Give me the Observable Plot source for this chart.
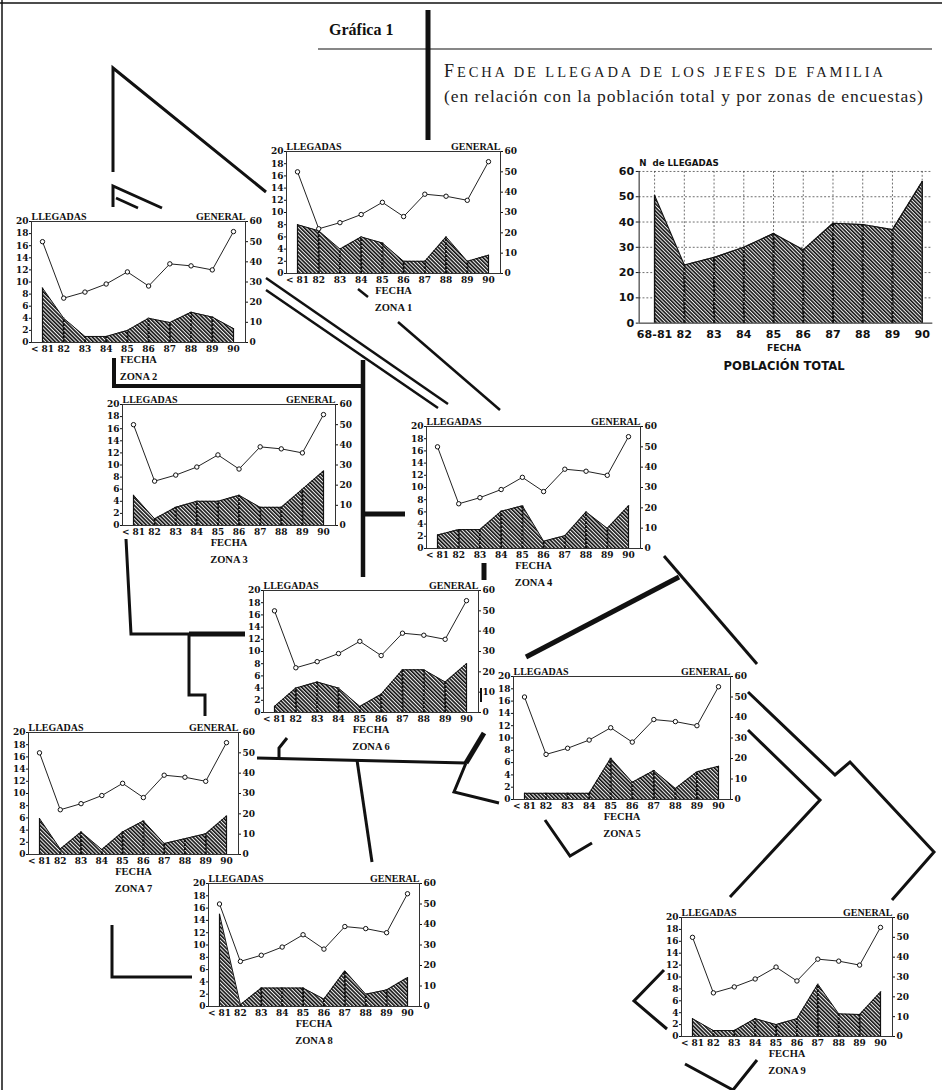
<!DOCTYPE html>
<html><head><meta charset="utf-8">
<script src="https://cdn.jsdelivr.net/npm/d3@7"></script>
<script src="https://cdn.jsdelivr.net/npm/@observablehq/plot@0.6"></script>
<style>
body{margin:0;background:#fff;}
#page{position:relative;width:942px;height:1090px;overflow:hidden;background:#fff;}
.abs{position:absolute;white-space:nowrap;}
.plotbox svg{overflow:visible;}
.sc{font-size:14.5px;}
.cap{font-size:18px;}
</style></head><body>
<svg width="0" height="0" style="position:absolute">
<defs>
<pattern id="hatch" patternUnits="userSpaceOnUse" width="2.7" height="2.7" patternTransform="rotate(-45)">
<rect width="2.7" height="2.7" fill="#eeeeee"/>
<line x1="0.8" y1="0" x2="0.8" y2="2.7" stroke="#111" stroke-width="1.6"/>
</pattern>
</defs></svg>
<div id="page"></div>
<script>
// ---------- DATA ----------
const years = [81, 82, 83, 84, 85, 86, 87, 88, 89, 90];
const xTickLabels = ["< 81", "82", "83", "84", "85", "86", "87", "88", "89", "90"];
const totalTickLabels = ["68-81", "82", "83", "84", "85", "86", "87", "88", "89", "90"];
const general = [50, 22, 25, 29, 35, 28, 39, 38, 36, 55];
const llegadasTicks = [0, 2, 4, 6, 8, 10, 12, 14, 16, 18, 20];
const generalTicks = [0, 10, 20, 30, 40, 50, 60];
const totalTicks = [0, 10, 20, 30, 40, 50, 60];
const zona1 = [8, 7, 4, 6, 5, 2, 2, 6, 2, 3];
const zona2 = [9, 4, 1, 1, 2, 4, 3.3, 5, 4.2, 2.3];
const zona3 = [5, 1.1, 3, 4, 4, 5, 3, 3, 6, 9];
const zona4 = [2.2, 3.1, 3.1, 6.1, 7, 1.2, 2.1, 6, 3.3, 7];
const zona5 = [1, 1, 1, 1, 6.7, 2.8, 4.7, 1.8, 4.5, 5.4];
const zona6 = [1, 4, 5, 4, 1, 3, 7, 7, 5, 8];
const zona7 = [5.9, 0.9, 3.7, 0.8, 3.7, 5.5, 1.8, 2.6, 3.4, 6.3];
const zona8 = [15, 0.3, 3, 3, 3, 1.2, 5.8, 2, 2.7, 4.7];
const zona9 = [3, 1, 1, 3, 2, 3, 8.8, 3.8, 3.7, 7.5];
const poblacionTotal = [50.5, 23, 26, 30, 35.5, 29, 39.5, 39, 37, 56];
const zoneNames = ["ZONA 1","ZONA 2","ZONA 3","ZONA 4","ZONA 5","ZONA 6","ZONA 7","ZONA 8","ZONA 9"];
const zoneSeries = [zona1, zona2, zona3, zona4, zona5, zona6, zona7, zona8, zona9];

// ---------- LAYOUT (frame left, top, width, height) ----------
const zoneFrames = [
  [286, 151, 214, 122],
  [31, 221, 214, 121],
  [122, 404, 213, 121],
  [426, 426, 214, 122],
  [513, 676, 217, 123],
  [263, 590, 215, 122],
  [28, 732, 210, 122],
  [208, 883, 211, 123],
  [681, 917, 211, 119]
];

const page = document.getElementById("page");
const serif = "'Liberation Serif', 'DejaVu Serif', serif";
const numFont = "'DejaVu Serif', serif";

function addDiv(html, left, top, css) {
  const d = document.createElement("div");
  d.className = "abs";
  d.innerHTML = html;
  d.style.left = left + "px";
  d.style.top = top + "px";
  Object.assign(d.style, css);
  page.appendChild(d);
  return d;
}

// decorative connectors (page layout)
const decor = [
  {w: 3, p: [[113,172],[113,68],[266,192]]},
  {w: 3, p: [[113,207],[113,186],[162,208]]},
  {w: 2.5, p: [[116,198],[138,208]]},
  {w: 2.5, p: [[266,278],[448,404]]},
  {w: 2.5, p: [[266,290],[438,408]]},
  {w: 2.5, p: [[358,289],[368,297]]},
  {w: 2.5, p: [[398,322],[500,410]]},
  {w: 4, p: [[114,358],[114,386],[363,386]]},
  {w: 4.5, p: [[363,360],[363,577]]},
  {w: 5, p: [[363,514],[405,514]]},
  {w: 5, p: [[484,563],[484,580]]},
  {w: 3, p: [[126,539],[131,634],[190,634]]},
  {w: 5, p: [[189,634],[245,634]]},
  {w: 3, p: [[189,634],[189,695],[205,695],[205,716]]},
  {w: 3, p: [[279,759],[279,748],[287,738]]},
  {w: 3, p: [[257,758],[466,763]]},
  {w: 5, p: [[466,763],[484,733]]},
  {w: 3, p: [[357,760],[372,862]]},
  {w: 3, p: [[466,763],[454,792],[499,803]]},
  {w: 3, p: [[545,820],[570,856],[592,843]]},
  {w: 5, p: [[526,657],[679,577]]},
  {w: 3, p: [[664,556],[757,664]]},
  {w: 3, p: [[748,692],[835,775],[850,762],[934,852],[892,900]]},
  {w: 3, p: [[748,730],[820,800],[730,897]]},
  {w: 3, p: [[664,970],[634,1001],[667,1029]]},
  {w: 3, p: [[685,1064],[733,1090],[757,1060]]},
  {w: 3, p: [[112,925],[112,977],[192,977]]},
  {w: 5, p: [[428,10],[428,140]]},
  {w: 2, p: [[481,688],[481,702]]},
  {w: 1.2, p: [[318,49],[932,49]]},
  {w: 1.5, p: [[2,0],[2,1090]]},
  {w: 1.5, p: [[0,3],[942,3]]}
];
const ns = "http://www.w3.org/2000/svg";
const dsvg = document.createElementNS(ns, "svg");
dsvg.setAttribute("width", 942); dsvg.setAttribute("height", 1090);
dsvg.style.position = "absolute"; dsvg.style.left = "0"; dsvg.style.top = "0";
for (const d of decor) {
  const pl = document.createElementNS(ns, "polyline");
  pl.setAttribute("points", d.p.map(q => q.join(",")).join(" "));
  pl.setAttribute("fill", "none");
  pl.setAttribute("stroke", "#111");
  pl.setAttribute("stroke-width", d.w);
  pl.setAttribute("stroke-linejoin", "miter");
  dsvg.appendChild(pl);
}
page.appendChild(dsvg);

// titles
addDiv("Gráfica 1", 329, 21, {fontFamily: serif, fontWeight: "bold", fontSize: "16px", color: "#111"});
const titleText = "Fecha de llegada de los jefes de familia";
addDiv(`<span class="cap">${titleText[0].toUpperCase()}</span><span class="sc">${titleText.slice(1).toUpperCase()}</span>`,
  444, 61, {fontFamily: serif, fontSize: "17px", color: "#1a1a1a", letterSpacing: "2.9px", fontWeight: "500"});
addDiv("(en relación con la población total y por zonas de encuestas)", 444, 86, {fontFamily: serif, fontSize: "17.5px", color: "#222", letterSpacing: "0.95px"});

// ---------- small zone charts ----------
function smallChart(values, name, frame) {
  const [fl, ft, fw, fh] = frame;
  const mL = 26, mR = 24, mT = 16, mB = 46;
  const data = years.map((y, i) => ({year: y, v: values[i], g: general[i]}));
  const inner = data.filter(d => d.year !== 81 && d.year !== 90);
  const ends = data.filter(d => d.year === 81 || d.year === 90);
  const labelOf = new Map(years.map((y, i) => [y, xTickLabels[i]]));
  const plot = Plot.plot({
    width: mL + fw + mR, height: mT + fh + mB,
    marginLeft: mL, marginRight: mR, marginTop: mT, marginBottom: mB,
    style: {fontFamily: numFont, fontSize: "9px", fontWeight: "bold", background: "transparent", color: "#111"},
    x: {domain: [81, 90], insetLeft: 11, insetRight: 12},
    y: {domain: [0, 20]},
    marks: [
      Plot.areaY(data, {x: "year", y: "v", fill: "url(#hatch)"}),
      Plot.lineY(data, {x: "year", y: "v", stroke: "#111", strokeWidth: 1}),
      Plot.ruleX(inner, {x: "year", y1: 0, y2: "v", stroke: "#111", strokeWidth: 2, strokeDasharray: "2.5,1.5"}),
      Plot.ruleX(ends, {x: "year", y1: 0, y2: "v", stroke: "#111", strokeWidth: 1.2}),
      Plot.lineY(data, {x: "year", y: d => d.g / 3, stroke: "#222", strokeWidth: 1}),
      Plot.dot(data, {x: "year", y: d => d.g / 3, r: 2.2, fill: "white", stroke: "#111", strokeWidth: 1}),
      Plot.frame({stroke: "#333", strokeWidth: 1}),
      Plot.axisY(llegadasTicks, {anchor: "left", tickSize: 2, tickPadding: 1, label: null}),
      Plot.axisY(generalTicks.map(v => v / 3), {anchor: "right", tickSize: 2, tickPadding: 2, label: null, tickFormat: d => String(Math.round(d * 3))}),
      Plot.axisX(years, {anchor: "bottom", tickSize: 0, tickPadding: 3, label: null, tickFormat: d => labelOf.get(d)}),
      Plot.text(["LLEGADAS"], {frameAnchor: "top-left", dy: -9, textAnchor: "start", fontFamily: serif, fontSize: 10, fontWeight: "bold"}),
      Plot.text(["GENERAL"], {frameAnchor: "top-right", dy: -9, textAnchor: "end", fontFamily: serif, fontSize: 10, fontWeight: "bold"}),
      Plot.text(["FECHA"], {frameAnchor: "bottom", dy: 20, fontFamily: serif, fontSize: 10.5, fontWeight: "bold"}),
      Plot.text([name], {frameAnchor: "bottom", dy: 37, fontFamily: serif, fontSize: 10.5, fontWeight: "bold"})
    ]
  });
  const box = document.createElement("div");
  box.className = "abs plotbox";
  box.style.left = (fl - mL) + "px";
  box.style.top = (ft - mT) + "px";
  box.appendChild(plot);
  page.appendChild(box);
}

zoneSeries.forEach((s, i) => smallChart(s, zoneNames[i], zoneFrames[i]));

// ---------- total population chart ----------
(function () {
  const fl = 640, ft = 172, fw = 304, fh = 157;
  const mL = 40, mR = 10, mT = 30, mB = 62;
  const data = years.map((y, i) => ({year: y, v: poblacionTotal[i]}));
  const inner = data.filter(d => d.year !== 81 && d.year !== 90);
  const ends = data.filter(d => d.year === 81 || d.year === 90);
  const labelOf = new Map(years.map((y, i) => [y, totalTickLabels[i]]));
  const sans = "'DejaVu Sans', sans-serif";
  const plot = Plot.plot({
    width: mL + fw + mR, height: mT + fh + mB,
    marginLeft: mL, marginRight: mR, marginTop: mT, marginBottom: mB,
    style: {fontFamily: sans, fontSize: "11.5px", fontWeight: "bold", background: "transparent", color: "#111"},
    x: {domain: [81, 90], insetLeft: 16, insetRight: 11},
    y: {domain: [0, 60]},
    marks: [
      Plot.ruleY(totalTicks.filter(t => t > 0), {y: d => d, stroke: "#444", strokeWidth: 0.8, strokeDasharray: "2,2"}),
      Plot.ruleX(years, {x: d => d, stroke: "#444", strokeWidth: 0.8, strokeDasharray: "2,2"}),
      Plot.areaY(data, {x: "year", y: "v", fill: "url(#hatch)"}),
      Plot.lineY(data, {x: "year", y: "v", stroke: "#111", strokeWidth: 1.2}),
      Plot.ruleX(inner, {x: "year", y1: 0, y2: "v", stroke: "#111", strokeWidth: 2.2, strokeDasharray: "3,1.5"}),
      Plot.ruleX(ends, {x: "year", y1: 0, y2: "v", stroke: "#111", strokeWidth: 1.5}),
      Plot.ruleY([0], {stroke: "#111", strokeWidth: 1}),
      Plot.ruleX([81], {x: d => d, dx: -16, stroke: "#111", strokeWidth: 1}),
      Plot.axisY(totalTicks, {anchor: "left", tickSize: 3, tickPadding: 2, label: null}),
      Plot.axisX(years, {anchor: "bottom", tickSize: 0, tickPadding: 7, label: null, tickFormat: d => labelOf.get(d)}),
      Plot.text(["N  de LLEGADAS"], {frameAnchor: "top-left", dy: -12, dx: 0, textAnchor: "start", fontSize: 9}),
      Plot.text(["FECHA"], {frameAnchor: "bottom", dy: 29, dx: -2, fontSize: 9.5}),
      Plot.text(["POBLACIÓN TOTAL"], {frameAnchor: "bottom", dy: 48, dx: -2, fontSize: 12})
    ]
  });
  const box = document.createElement("div");
  box.className = "abs plotbox";
  box.style.left = (fl - mL) + "px";
  box.style.top = (ft - mT) + "px";
  box.appendChild(plot);
  page.appendChild(box);
})();
</script>
</body></html>
